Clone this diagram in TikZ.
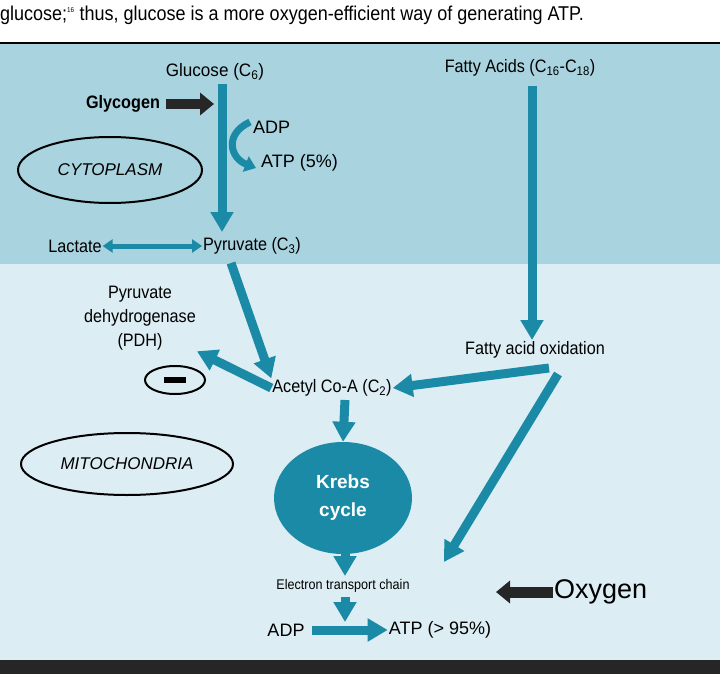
\documentclass[tikz,border=0pt]{standalone}
\usepackage{fontspec}
\setmainfont{Liberation Sans}
\usetikzlibrary{arrows.meta,shapes.geometric}
\definecolor{teal1}{HTML}{1B8AA6}
\definecolor{bandA}{HTML}{A8D3DF}
\definecolor{bandB}{HTML}{DCEDF3}
\begin{document}
\begin{tikzpicture}[x=1pt,y=-1pt,
  ar/.style={teal1,line width=9pt,-{Triangle[length=20pt,width=22pt]}},
  arthin/.style={teal1,line width=5pt,-{Triangle[length=10pt,width=13pt]}},
  blk/.style={black!85,line width=10pt,-{Triangle[length=14pt,width=22pt]}},
  lab/.style={font=\fontsize{18}{20}\selectfont,inner sep=1pt},
  oval/.style={draw,line width=2pt,ellipse}]
\useasboundingbox (0,0) rectangle (720,674);
\fill[white] (0,0) rectangle (720,674);
\fill[bandA] (0,44) rectangle (720,264);
\fill[bandB] (0,264) rectangle (720,660);
\fill[black!85] (0,660) rectangle (720,674);
\draw[line width=2pt] (0,43) -- (720,43);
\node[anchor=west,inner sep=0,font=\fontsize{20}{22}\selectfont,xscale=0.9] (cap) at (0,15) {glucose;\textsuperscript{\scriptsize 16} thus, glucose is a more oxygen-efficient way of generating ATP.};
% nodes
\node[lab,xscale=0.95] (glu) at (215,72) {Glucose (C\textsubscript{6})};
\node[lab,font=\bfseries\fontsize{18}{20}\selectfont,xscale=0.9] (gly) at (123,104) {Glycogen};
\coordinate (glyE) at (214,104);
\node[lab,anchor=west] (adp1) at (252,127) {ADP};
\node[lab,anchor=west] (atp1) at (260,163) {ATP (5\%)};
\node[oval,minimum width=184pt,minimum height=66pt,font=\itshape\fontsize{17}{19}\selectfont] (cyto) at (110,170) {CYTOPLASM};
\node[lab,xscale=0.9] (lac) at (75,246) {Lactate};
\node[lab,xscale=0.9] (pyr) at (252,246) {Pyruvate (C\textsubscript{3})};
\node[lab,xscale=0.9] (fa) at (520,68) {Fatty Acids (C\textsubscript{16}-C\textsubscript{18})};
\node[lab,align=center,font=\fontsize{18}{24}\selectfont,xscale=0.9] (pdh) at (140,318) {Pyruvate\\dehydrogenase\\(PDH)};
\node[oval,minimum width=60pt,minimum height=28pt] (minus) at (175,380) {};
\fill (164,377) rectangle (186,383);
\node[lab,xscale=0.9] (acet) at (332,388) {Acetyl Co-A (C\textsubscript{2})};
\node[lab,xscale=0.9] (fao) at (535,350) {Fatty acid oxidation};
\node[oval,minimum width=212pt,minimum height=62pt,font=\itshape\fontsize{17}{19}\selectfont] (mito) at (127,464) {MITOCHONDRIA};
\node[fill=teal1,ellipse,minimum width=138pt,minimum height=112pt,text=white,align=center,font=\bfseries\fontsize{19}{28}\selectfont] (krebs) at (343,498) {Krebs\\cycle};
\node[lab,font=\fontsize{14}{16}\selectfont,xscale=0.9] (etc) at (343,586) {Electron transport chain};
\node[lab,font=\fontsize{27}{30}\selectfont,anchor=west] (oxy) at (553,592) {Oxygen};
\node[lab] (adp2) at (286,630) {ADP};
\node[lab] (atp2) at (440,630) {ATP (> 95\%)};
\coordinate (faoA) at (549,368);
\coordinate (faoB) at (558,374);
\coordinate (etcE) at (444,562);
% arrows
\draw[ar] (222,84) -- (222,232);
\draw[blk] ([xshift=5pt]gly.east) -- (glyE);
\draw[teal1,line width=7pt,-{Triangle[length=11pt,width=16pt]}] (250,122) .. controls (224,134) and (230,158) .. (256,168);
\draw[arthin,{Triangle[length=10pt,width=13pt]}-{Triangle[length=10pt,width=13pt]}] (lac.east) -- (pyr.west);
\draw[ar] (532,86) -- (532,340);
\draw[ar] (231,263) -- (acet.north west);
\draw[ar] (acet.west) -- (pdh.south east);
\draw[ar] (faoA) -- (acet.east);
\draw[ar] (faoB) -- (etcE);
\draw[ar] (345,400) -- (krebs.north);
\draw[ar] (345,548) -- (345,576);
\draw[blk,line width=11pt] (oxy.west) -- (496,592);
\draw[ar] (345,597) -- (345,622);
\draw[ar] ([xshift=6pt]adp2.east) -- (atp2.west);
\end{tikzpicture}
\end{document}
